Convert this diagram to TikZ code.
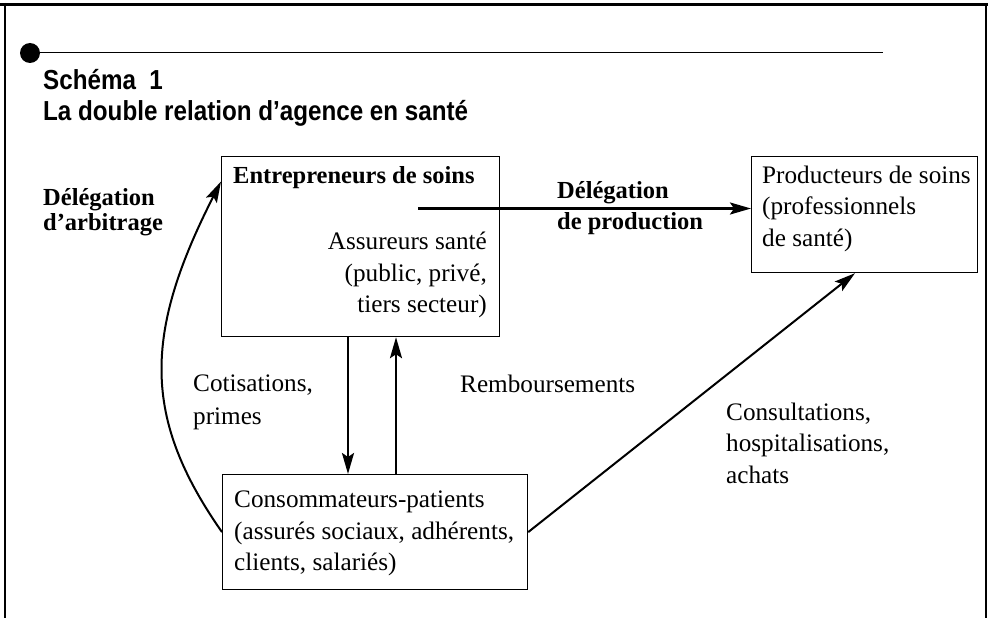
\documentclass[tikz,border=0pt]{standalone}
\usepackage{fontspec}
\setmainfont{Liberation Serif}
\newfontfamily\titlefont[FakeStretch=0.88]{Liberation Sans}
\usetikzlibrary{calc,positioning,arrows.meta}

\begin{document}
\begin{tikzpicture}[x=1pt, y=1pt,
  box/.style={draw, line width=1.2pt, inner sep=0pt, anchor=north west},
  txt/.style={font=\fontsize{25.2}{31.5}\selectfont, inner sep=0pt},
  bold/.style={font=\fontsize{24.5}{31.5}\selectfont\bfseries, inner sep=0pt},
  title/.style={font=\fontsize{27.5}{30}\selectfont\titlefont\bfseries, inner sep=0pt, anchor=base west},
  conn/.style={line width=2.4pt, -{Stealth[length=21pt, width=12pt, inset=4pt]}}]
\useasboundingbox (0,0) rectangle (988,-618);
% cadre
\draw[line width=3pt] (0,-4.5) -- (988,-4.5);
\draw[line width=2pt] (5,-3) -- (5,-618);
\draw[line width=2pt] (986,-3) -- (986,-618);
% titre
\node[circle, fill, minimum size=20pt, inner sep=0pt] (dot) at (30,-53) {};
\coordinate (ruleend) at (883,-52.5);
\draw[line width=1.5pt] (dot.center |- ruleend) -- (ruleend);
\node[title] (schema) at (43,-89) {Schéma\ \ 1};
\node[title] (titre) at (43,-120) {La double relation d’agence en santé};
% boites
\node[box, minimum width=278pt, minimum height=180pt] (ent) at (221,-156) {};
\node[box, minimum width=226pt, minimum height=116pt] (prod) at (751,-156) {};
\node[box, minimum width=305pt, minimum height=115pt] (cons) at (222,-474) {};
\node[bold, anchor=base west] (entT) at (233,-183) {Entrepreneurs de soins};
\node[txt, align=right, anchor=north east] (assT) at (487,-231.8) {Assureurs santé\\(public, privé,\\tiers secteur)};
\node[txt, align=left, anchor=north west] (prodT) at (762,-165.8) {Producteurs de soins\\(professionnels\\de santé)};
\node[txt, align=left, anchor=north west] (consT) at (234,-490.8) {Consommateurs-patients\\(assurés sociaux, adhérents,\\clients, salariés)};
% etiquettes
\node[bold, font=\fontsize{24.5}{25.5}\selectfont\bfseries, align=left, anchor=north west] (delarb) at (43,-187.8) {Délégation\\d’arbitrage};
\node[bold, align=left, anchor=north west] (delprod) at (557,-181) {Délégation\\de production};
\node[txt, font=\fontsize{25.2}{33}\selectfont, align=left, anchor=north west] (cotis) at (193,-374.5) {Cotisations,\\primes};
\node[txt, anchor=base west] (remb) at (460,-392) {Remboursements};
\node[txt, align=left, anchor=north west] (consult) at (726,-402.8) {Consultations,\\hospitalisations,\\achats};
% fleches
\coordinate (dpstart) at (418,-208.5);
\coordinate (cotisx) at (348,0);
\coordinate (rembx) at (396,0);
\coordinate (consx) at (855,0);
\draw[conn] (dpstart) -- (dpstart -| prod.west);
\draw[conn] (ent.south -| cotisx) -- (cons.north -| cotisx);
\draw[conn] (cons.north -| rembx) -- (ent.south -| rembx);
\draw[conn, line width=2pt] (cons.east) -- (prod.south -| consx);
\draw[conn, line width=2pt] (cons.west) .. controls +(125:140) and +(243:170) .. (ent.155);
\end{tikzpicture}
\end{document}
